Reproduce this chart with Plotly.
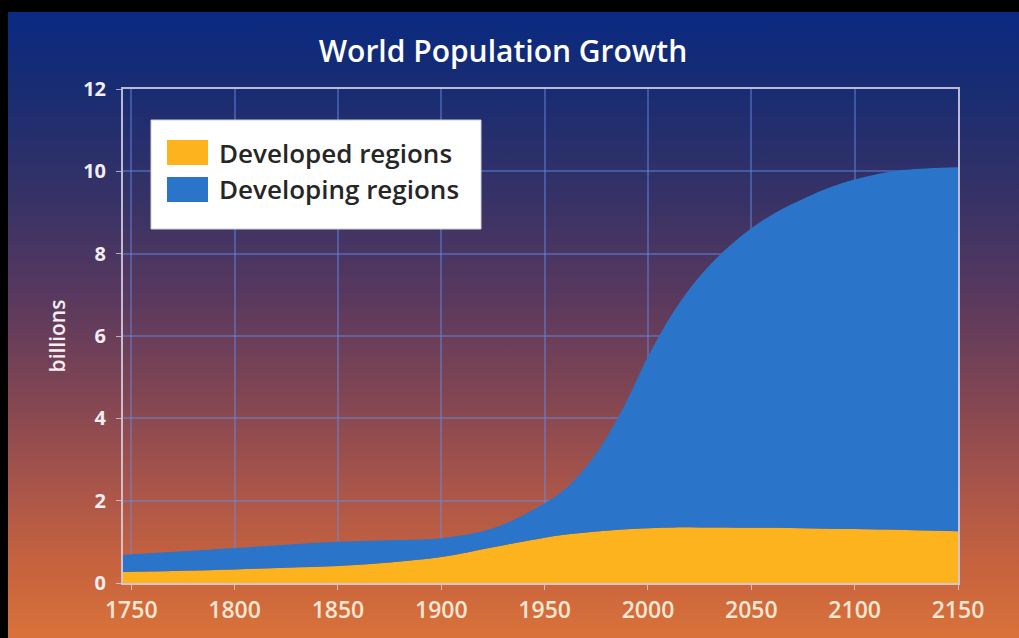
import base64
import plotly.graph_objects as go

# ---------------- data ----------------
years = [1746, 1775, 1800, 1825, 1850, 1875, 1900, 1925, 1950, 1962.5, 1975,
         1987.5, 2000, 2012.5, 2025, 2037.5, 2050, 2062.5, 2075, 2087.5, 2100,
         2112.5, 2125, 2150]
developed = [0.27, 0.30, 0.33, 0.37, 0.41, 0.50, 0.63, 0.87, 1.10, 1.19, 1.25,
             1.30, 1.33, 1.35, 1.35, 1.35, 1.34, 1.34, 1.33, 1.32, 1.31,
             1.30, 1.29, 1.26]
developing = [0.41, 0.47, 0.52, 0.56, 0.59, 0.54, 0.46, 0.46, 0.84, 1.21, 1.90,
              2.90, 4.17, 5.25, 6.10, 6.75, 7.28, 7.68, 8.00, 8.28, 8.49,
              8.65, 8.75, 8.84]
series_names = ["Developed regions", "Developing regions"]
series_colors = ["#fdb31d", "#2a74c9"]
x_ticks = [1750, 1800, 1850, 1900, 1950, 2000, 2050, 2100, 2150]
y_ticks = [0, 2, 4, 6, 8, 10, 12]
title_text = "World Population Growth"
y_title = "billions"

# ---------------- layout geometry ----------------
W, H = 1019, 638
L, R, T, B = 123, 61, 89, 55
PW, PH = W - L - R, H - T - B


def px(xp):
    return (xp - L) / PW


def py(yp):
    return (H - B - yp) / PH


FONT = "Open Sans"

fig = go.Figure()
for name, vals, col in zip(series_names, [developed, developing], series_colors):
    fig.add_trace(go.Scatter(
        x=years, y=vals, name=name, mode="lines", stackgroup="one",
        line=dict(width=0, shape="spline", smoothing=1.0, color=col),
        fillcolor=col, showlegend=False, hoverinfo="x+y+name"))

# gradient background as an SVG image
stops = [(0.00, "#0a2a82"), (0.12, "#182c72"), (0.30, "#373266"),
         (0.46, "#5a395e"), (0.62, "#834652"), (0.76, "#a9554a"),
         (0.88, "#c6623e"), (1.00, "#d9723a")]
stop_xml = "".join(f'<stop offset="{o}" stop-color="{c}"/>' for o, c in stops)
svg = ('<svg xmlns="http://www.w3.org/2000/svg" width="1011" height="626" '
       'preserveAspectRatio="none"><defs><linearGradient id="g" x1="0" y1="0" '
       f'x2="0" y2="1">{stop_xml}</linearGradient></defs>'
       '<rect width="1011" height="626" fill="url(#g)"/></svg>')
src = "data:image/svg+xml;base64," + base64.b64encode(svg.encode()).decode()

fig.add_layout_image(dict(
    source=src, xref="paper", yref="paper", x=px(8), y=py(12),
    sizex=(W - 8) / PW, sizey=(H - 12) / PH, sizing="stretch",
    xanchor="left", yanchor="top", layer="below"))

# manual legend (box, swatches, labels)
shapes = [dict(type="rect", xref="paper", yref="paper",
               x0=px(151), x1=px(481), y0=py(120), y1=py(229),
               fillcolor="white", line=dict(color="#cfcfd8", width=1), layer="above")]
sw_rows = [(140, 165), (177, 202)]
annotations = []
for (y0, y1), name, col in zip(sw_rows, series_names, series_colors):
    shapes.append(dict(type="rect", xref="paper", yref="paper",
                       x0=px(167), x1=px(208), y0=py(y0), y1=py(y1),
                       fillcolor=col, line=dict(width=0), layer="above"))
    annotations.append(dict(text=name, xref="paper", yref="paper",
                            x=px(217), y=py((y0 + y1) / 2), xanchor="left",
                            yanchor="middle", showarrow=False,
                            font=dict(family=FONT, size=26, color="#262626", weight=600)))

grid_col = "rgba(100,140,235,0.45)"
line_col = "rgba(215,210,235,0.85)"

fig.update_layout(
    width=W, height=H, margin=dict(l=L, r=R, t=T, b=B),
    paper_bgcolor="black", plot_bgcolor="rgba(0,0,0,0)",
    title=dict(text=title_text, x=503 / W, y=1 - 51 / H, xref="container",
               xanchor="center", yanchor="middle",
               font=dict(family=FONT, size=30, color="white", weight=600)),
    shapes=shapes, annotations=annotations,
    xaxis=dict(range=[1746, 2150], tickvals=x_ticks, showgrid=True,
               gridcolor=grid_col, gridwidth=2,
               showline=True, linecolor=line_col, linewidth=2, mirror=True,
               ticks="outside", ticklen=5, tickcolor="rgba(230,220,230,0.7)",
               tickfont=dict(family=FONT, size=23, color="#f7e6d2", weight=600),
               zeroline=False, fixedrange=True),
    yaxis=dict(range=[0, 12], tickvals=y_ticks, showgrid=True,
               gridcolor=grid_col, gridwidth=2,
               showline=True, linecolor=line_col, linewidth=2, mirror=True,
               ticks="outside", ticklen=5, tickcolor="rgba(230,220,230,0.7)",
               ticklabelstandoff=6,
               tickfont=dict(family=FONT, size=20, color="#f3ecf2", weight=700),
               title=dict(text=y_title, standoff=12,
                          font=dict(family=FONT, size=21, color="#f5eef2", weight=600)),
               zeroline=False, fixedrange=True),
)

fig.write_html("out.html")
